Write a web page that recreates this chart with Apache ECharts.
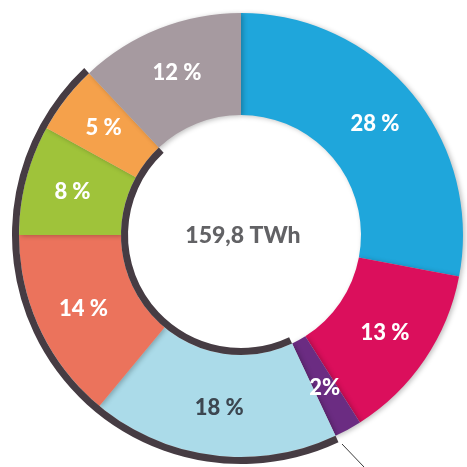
<!DOCTYPE html>
<html>
<head>
<meta charset="utf-8">
<script src="https://cdn.jsdelivr.net/npm/echarts@6/dist/echarts.min.js"></script>
<style>
  html, body { margin: 0; padding: 0; background: #fff; }
  #chart { width: 467px; height: 467px; }
</style>
</head>
<body>
<div id="chart"></div>
<script>
// slices, clockwise from 12 o'clock
const shares = [28, 13, 2, 18, 14, 8, 5, 12]
const sliceColors = ['#1fa6db', '#db0f5c', '#6b2c82', '#abdbe9', '#eb735c', '#9fc33a', '#f5a14b', '#a69aa0']
const labelColors = ['#fff', '#fff', '#fff', '#3c4650', '#fff', '#fff', '#fff', '#fff']
// slices wrapped by the dark bracket arcs
const bracketed = [false, false, false, true, true, true, true, false]
const totalLabel = '159,8 TWh'

const center = [241, 235]
const font = 'Lato, "Open Sans", sans-serif'

// build the bracket arc data: runs of hidden / dark pieces
let bracketData = []
for (let i = 0; i < shares.length; i++) {
  let last = bracketData[bracketData.length - 1]
  if (last && last.on === bracketed[i]) {
    last.value += shares[i]
  } else {
    bracketData.push({on: bracketed[i], value: shares[i]})
  }
}
bracketData = bracketData.map(d => ({
  value: d.value,
  itemStyle: {color: d.on ? '#463c43' : 'rgba(0,0,0,0)'}
}))

let myChart = echarts.init(document.getElementById('chart'))
let option = {
  animation: false,
  series: [
    {
      type: 'pie',
      center: center,
      radius: [120, 222],
      startAngle: 90,
      silent: true,
      itemStyle: {
        shadowBlur: 5,
        shadowOffsetX: 2,
        shadowOffsetY: 1,
        shadowColor: 'rgba(0,0,0,0.25)'
      },
      label: {
        show: true,
        position: 'inside',
        fontFamily: font,
        fontWeight: 900,
        fontSize: 22,
        formatter: p => p.value + (p.value < 3 ? '%' : ' %')
      },
      labelLine: {show: false},
      data: shares.map((v, i) => ({
        value: v,
        itemStyle: {color: sliceColors[i]},
        label: {color: labelColors[i]}
      }))
    },
    {
      type: 'pie',
      center: center,
      radius: [222, 229],
      startAngle: 90,
      silent: true,
      label: {show: false},
      data: bracketData
    },
    {
      type: 'pie',
      center: center,
      radius: [113, 120],
      startAngle: 90,
      silent: true,
      label: {show: false},
      data: bracketData
    }
  ],
  graphic: [
    {
      type: 'text',
      style: {
        text: totalLabel,
        x: center[0] + 2,
        y: center[1] + 1,
        fill: '#626265',
        font: '900 23px ' + font,
        textAlign: 'center',
        textVerticalAlign: 'middle'
      }
    },
    {
      type: 'line',
      shape: {x1: 342, y1: 444, x2: 364, y2: 467},
      style: {stroke: '#3a3a3a', lineWidth: 1}
    }
  ]
}
myChart.setOption(option)
</script>
</body>
</html>
